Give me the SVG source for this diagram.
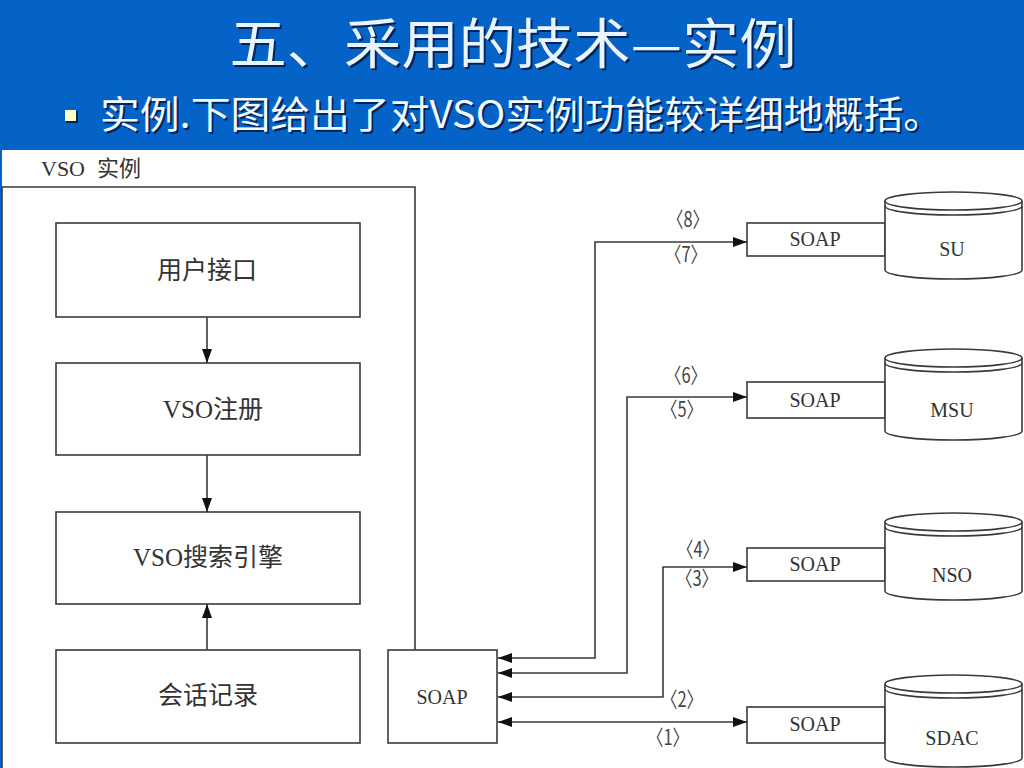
<svg xmlns="http://www.w3.org/2000/svg" width="1024" height="768" viewBox="0 0 1024 768">
<defs>
<style>
.box{fill:#fff;stroke:#3a3a3a;stroke-width:1.6}
.ln{fill:none;stroke:#3a3a3a;stroke-width:1.6}
.cn{font-family:"Liberation Serif","Noto Sans CJK SC",serif;font-size:25px;fill:#333;text-anchor:middle}
.lt{font-family:"Liberation Serif","Noto Sans CJK SC",serif;font-size:20px;fill:#333;text-anchor:middle}
.lb{font-family:"Noto Sans CJK SC","Liberation Serif",serif;font-size:21px;fill:#444;text-anchor:middle}
.ttl{font-family:"Noto Sans CJK SC","Liberation Sans",sans-serif;text-anchor:middle}
</style>
<marker id="ah" markerWidth="14" markerHeight="10" refX="14" refY="5" orient="auto-start-reverse" markerUnits="userSpaceOnUse">
<path d="M0,0 L14,5 L0,10 Z" fill="#111"/>
</marker>
</defs>

<rect x="0" y="0" width="1024" height="768" fill="#fff"/>
<g id="header">
<rect x="0" y="0" width="1024" height="150" fill="#0563c8"/>
<text class="ttl" x="515" y="66" font-size="54" fill="#00255a" textLength="567" lengthAdjust="spacingAndGlyphs">五、采用的技术—实例</text>
<text class="ttl" x="513" y="64" font-size="54" fill="#eaf4ff" textLength="567" lengthAdjust="spacingAndGlyphs">五、采用的技术—实例</text>
<rect x="66" y="111" width="12" height="12" fill="#00255a"/>
<rect x="65" y="110" width="11" height="11" fill="#ffffc8"/>
<text x="102" y="130" font-size="38" fill="#00255a" font-family="Noto Sans CJK SC,Liberation Sans,sans-serif" textLength="843" lengthAdjust="spacingAndGlyphs">实例.下图给出了对VSO实例功能较详细地概括。</text>
<text x="100" y="128" font-size="38" fill="#f2f8ff" font-family="Noto Sans CJK SC,Liberation Sans,sans-serif" textLength="843" lengthAdjust="spacingAndGlyphs">实例.下图给出了对VSO实例功能较详细地概括。</text>
</g>

<g id="vso-instance">
<rect x="0" y="150" width="2" height="618" fill="#0563c8"/>
<text y="176" class="lt" style="text-anchor:start;font-size:22px"><tspan x="41">VSO</tspan><tspan x="97">实例</tspan></text>
<path class="ln" d="M2,187 L415,187 L415,650"/>
<path class="ln" d="M2,187 L2,768"/>
</g>

<g id="user-interface">
<rect class="box" x="56" y="223" width="304" height="94"/>
<text class="cn" x="207" y="279">用户接口</text>
</g>
<g id="vso-register">
<rect class="box" x="56" y="363" width="304" height="92"/>
<text class="cn" x="213" y="418">VSO注册</text>
</g>
<g id="vso-search">
<rect class="box" x="56" y="512" width="304" height="92"/>
<text class="cn" x="208" y="566">VSO搜索引擎</text>
</g>
<g id="session-log">
<rect class="box" x="56" y="650" width="304" height="93"/>
<text class="cn" x="208" y="704">会话记录</text>
</g>
<g id="soap-main">
<rect class="box" x="388" y="650" width="109" height="93"/>
<text class="lt" x="442" y="704">SOAP</text>
</g>

<g id="soap-su">
<rect class="box" x="747" y="223" width="138" height="33"/>
<text class="lt" x="815" y="246">SOAP</text>
</g>
<g id="su">
<path class="box" d="M885,201 A68.5,9 0 0,1 1022,201 L1022,270 A68.5,9 0 0,1 885,270 Z"/>
<path class="ln" d="M885,201 A68.5,9 0 0,0 1022,201 M885,206 A68.5,9 0 0,0 1022,206"/>
<text class="lt" x="952" y="256">SU</text>
</g>

<g id="soap-msu">
<rect class="box" x="747" y="382" width="138" height="36"/>
<text class="lt" x="815" y="407">SOAP</text>
</g>
<g id="msu">
<path class="box" d="M885,358 A68.5,9 0 0,1 1022,358 L1022,431 A68.5,9 0 0,1 885,431 Z"/>
<path class="ln" d="M885,358 A68.5,9 0 0,0 1022,358 M885,363 A68.5,9 0 0,0 1022,363"/>
<text class="lt" x="952" y="417">MSU</text>
</g>

<g id="soap-nso">
<rect class="box" x="747" y="548" width="138" height="33"/>
<text class="lt" x="815" y="571">SOAP</text>
</g>
<g id="nso">
<path class="box" d="M885,522 A68.5,9 0 0,1 1022,522 L1022,591 A68.5,9 0 0,1 885,591 Z"/>
<path class="ln" d="M885,522 A68.5,9 0 0,0 1022,522 M885,527 A68.5,9 0 0,0 1022,527"/>
<text class="lt" x="952" y="582">NSO</text>
</g>

<g id="soap-sdac">
<rect class="box" x="747" y="707" width="138" height="36"/>
<text class="lt" x="815" y="731">SOAP</text>
</g>
<g id="sdac">
<path class="box" d="M885,684 A68.5,9 0 0,1 1022,684 L1022,758 A68.5,9 0 0,1 885,758 Z"/>
<path class="ln" d="M885,684 A68.5,9 0 0,0 1022,684 M885,689 A68.5,9 0 0,0 1022,689"/>
<text class="lt" x="952" y="745">SDAC</text>
</g>

<g id="connectors">
<path class="ln" d="M207,317 L207,363" marker-end="url(#ah)"/>
<path class="ln" d="M207,455 L207,512" marker-end="url(#ah)"/>
<path class="ln" d="M207,650 L207,604" marker-end="url(#ah)"/>
<path class="ln" d="M498,658 L595,658 L595,242 L747,242" marker-start="url(#ah)" marker-end="url(#ah)"/>
<path class="ln" d="M498,673 L627,673 L627,397 L747,397" marker-start="url(#ah)" marker-end="url(#ah)"/>
<path class="ln" d="M498,697 L663,697 L663,567 L747,567" marker-start="url(#ah)" marker-end="url(#ah)"/>
<path class="ln" d="M498,722 L747,722" marker-start="url(#ah)" marker-end="url(#ah)"/>
<text class="lb" x="688" y="227" textLength="42" lengthAdjust="spacingAndGlyphs">〈8〉</text>
<text class="lb" x="686" y="262" textLength="42" lengthAdjust="spacingAndGlyphs">〈7〉</text>
<text class="lb" x="686" y="383" textLength="42" lengthAdjust="spacingAndGlyphs">〈6〉</text>
<text class="lb" x="682" y="417" textLength="42" lengthAdjust="spacingAndGlyphs">〈5〉</text>
<text class="lb" x="698" y="557" textLength="42" lengthAdjust="spacingAndGlyphs">〈4〉</text>
<text class="lb" x="697" y="586" textLength="42" lengthAdjust="spacingAndGlyphs">〈3〉</text>
<text class="lb" x="682" y="707" textLength="42" lengthAdjust="spacingAndGlyphs">〈2〉</text>
<text class="lb" x="668" y="745" textLength="42" lengthAdjust="spacingAndGlyphs">〈1〉</text>
</g>
</svg>
